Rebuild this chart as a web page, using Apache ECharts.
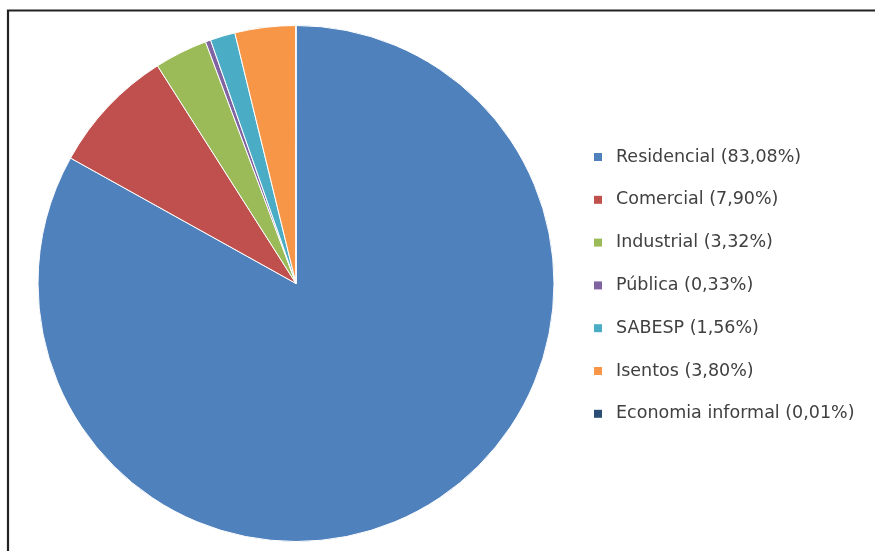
<!DOCTYPE html>
<html>
<head>
<meta charset="utf-8">
<script src="https://cdn.jsdelivr.net/npm/echarts@6/dist/echarts.min.js"></script>
<style>
html,body{margin:0;padding:0;background:#fff;}
#c{width:875px;height:551px;}
</style>
</head>
<body>
<div id="c"></div>
<script>
const categories = ["Residencial (83,08%)", "Comercial (7,90%)", "Industrial (3,32%)", "Pública (0,33%)", "SABESP (1,56%)", "Isentos (3,80%)", "Economia informal (0,01%)"];
const values = [83.08, 7.90, 3.32, 0.33, 1.56, 3.80, 0.01];
const colors = ["#4F81BD", "#C0504D", "#9BBB59", "#8064A2", "#4BACC6", "#F79646", "#2C4D75"];

const chart = echarts.init(document.getElementById('c'), null, {renderer: 'canvas'});
chart.setOption({
  animation: false,
  backgroundColor: '#ffffff',
  color: colors,
  graphic: [{
    type: 'rect',
    shape: {x: 8, y: 10.5, width: 1000, height: 1000},
    style: {fill: 'none', stroke: '#222', lineWidth: 2.2},
    silent: true
  }],
  legend: {
    orient: 'vertical',
    left: 589,
    top: 142,
    itemWidth: 8,
    itemHeight: 8,
    itemGap: 22.8,
    icon: 'rect',
    itemStyle: {borderWidth: 0},
    textStyle: {
      fontFamily: 'DejaVu Sans',
      fontSize: 17.5,
      lineHeight: 20,
      color: '#404040',
      padding: [0, 0, 0, 9]
    },
    data: categories
  },
  series: [{
    type: 'pie',
    center: [296, 283.5],
    radius: 258,
    startAngle: 90,
    clockwise: true,
    label: {show: false},
    labelLine: {show: false},
    itemStyle: {borderColor: '#ffffff', borderWidth: 1},
    emphasis: {disabled: true},
    data: categories.map((c, i) => ({name: c, value: values[i]}))
  }]
});
</script>
</body>
</html>
